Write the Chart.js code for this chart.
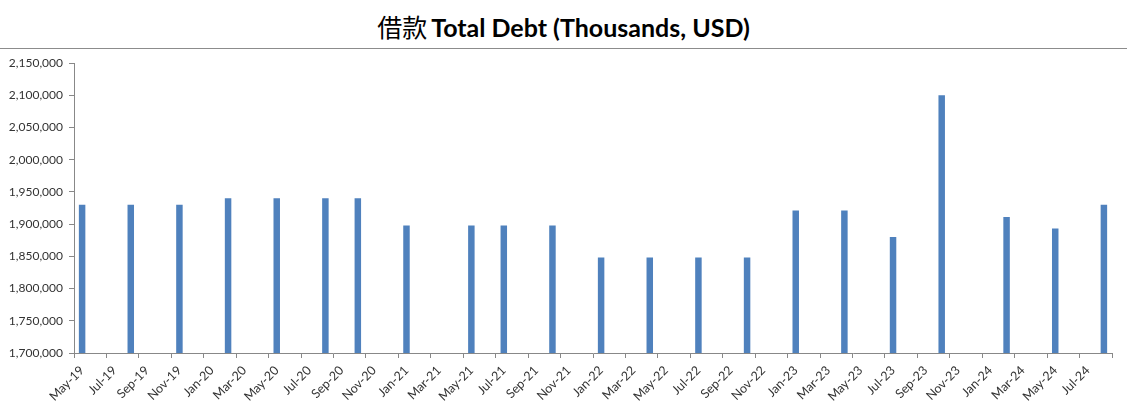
<!DOCTYPE html>
<html>
<head>
<meta charset="utf-8">
<script src="https://cdn.jsdelivr.net/npm/chart.js@4/dist/chart.umd.min.js"></script>
<style>
  body { margin: 0; background: #fff; }
  #title {
    width: 1127px; height: 48px; border-bottom: 1px solid #8c8c8c;
    text-align: center; line-height: 52px; color: #000; white-space: nowrap;
  }
  #title .cjk { font-family: "Noto Sans CJK SC"; font-size: 25px; }
  #title .en { font-family: Lato, sans-serif; font-weight: bold; font-size: 25px; }
  .chartWrap { position: relative; width: 1127px; height: 360px; }
</style>
</head>
<body>
<div id="title"><span class="cjk">借款</span> <span class="en">Total Debt (Thousands, USD)</span></div>
<div class="chartWrap"><canvas id="chart"></canvas></div>
<script>
const months = [
  "May-19", "Jun-19", "Jul-19", "Aug-19", "Sep-19", "Oct-19", "Nov-19", "Dec-19",
  "Jan-20", "Feb-20", "Mar-20", "Apr-20", "May-20", "Jun-20", "Jul-20", "Aug-20", "Sep-20", "Oct-20", "Nov-20", "Dec-20",
  "Jan-21", "Feb-21", "Mar-21", "Apr-21", "May-21", "Jun-21", "Jul-21", "Aug-21", "Sep-21", "Oct-21", "Nov-21", "Dec-21",
  "Jan-22", "Feb-22", "Mar-22", "Apr-22", "May-22", "Jun-22", "Jul-22", "Aug-22", "Sep-22", "Oct-22", "Nov-22", "Dec-22",
  "Jan-23", "Feb-23", "Mar-23", "Apr-23", "May-23", "Jun-23", "Jul-23", "Aug-23", "Sep-23", "Oct-23", "Nov-23", "Dec-23",
  "Jan-24", "Feb-24", "Mar-24", "Apr-24", "May-24", "Jun-24", "Jul-24", "Aug-24",
];

// months that have a reported value
const reportMonths = [
  "May-19", "Aug-19", "Nov-19", "Feb-20", "May-20", "Aug-20", "Oct-20",
  "Jan-21", "May-21", "Jul-21", "Oct-21", "Jan-22", "Apr-22", "Jul-22", "Oct-22",
  "Jan-23", "Apr-23", "Jul-23", "Oct-23", "Feb-24", "May-24", "Aug-24",
];
const totalDebt = [
  1930000, 1930000, 1930000, 1940000, 1940000, 1940000, 1940000,
  1898000, 1898000, 1898000, 1898000, 1848000, 1848000, 1848000, 1848000,
  1921000, 1921000, 1880000, 2100000, 1911000, 1893000, 1930000,
];

const yMin = 1700000;
const yMax = 2150000;
const yStep = 50000;

const barData = months.map((m) => {
  const i = reportMonths.indexOf(m);
  return i >= 0 ? totalDebt[i] : null;
});

const axisGray = "#888888";
const labelColor = "#333333";

new Chart(document.getElementById("chart"), {
  type: "bar",
  data: {
    labels: months,
    datasets: [
      {
        label: "Total Debt",
        data: barData,
        backgroundColor: "#4f81bd",
        borderWidth: 0,
        categoryPercentage: 1,
        barPercentage: 0.4,
      },
    ],
  },
  options: {
    responsive: true,
    maintainAspectRatio: false,
    animation: false,
    layout: { padding: { top: 14, right: 15, left: 0, bottom: 0 } },
    plugins: {
      legend: { display: false },
      tooltip: { enabled: false },
    },
    scales: {
      x: {
        offset: true,
        afterFit: (s) => { s.height = 56; },
        grid: {
          offset: true,
          drawOnChartArea: false,
          tickLength: 5,
          color: (ctx) => (ctx.index === undefined || ctx.index % 2 === 0 ? axisGray : "rgba(0,0,0,0)"),
        },
        border: { color: axisGray, width: 1 },
        ticks: {
          autoSkip: false,
          maxRotation: 45,
          minRotation: 45,
          padding: 5,
          color: labelColor,
          font: { family: "Lato", size: 12.5 },
          callback: (v, i) => (i % 2 === 0 ? months[i] : ""),
        },
      },
      y: {
        min: yMin,
        max: yMax,
        afterFit: (s) => { s.width = 74; },
        grid: { drawOnChartArea: false, tickLength: 5, color: axisGray },
        border: { color: axisGray, width: 1 },
        ticks: {
          stepSize: yStep,
          padding: 6,
          color: labelColor,
          font: { family: "Lato", size: 12 },
          callback: (v) => v.toLocaleString("en-US"),
        },
      },
    },
  },
});
</script>
</body>
</html>
